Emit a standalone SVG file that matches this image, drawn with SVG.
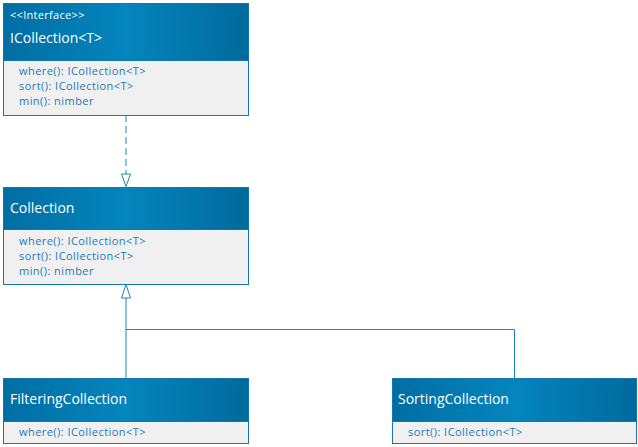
<svg xmlns="http://www.w3.org/2000/svg" width="638" height="447" viewBox="0 0 638 447">
<style>
.box{fill:#f0f0f0;stroke:#1478ad;stroke-width:1}
.title{font-family:"Open Sans","Noto Sans",sans-serif;font-size:14px;fill:#ffffff}
.stereo{font-family:"Open Sans","Noto Sans",sans-serif;font-size:11px;letter-spacing:0.3px;fill:#ffffff}
.m{font-family:"Open Sans","Noto Sans",sans-serif;font-size:11px;letter-spacing:0.45px;fill:#1f77bb}
.conn{fill:none;stroke:#1a87b8;stroke-width:1}
</style>
<defs>
<linearGradient id="hg" x1="0" y1="0" x2="1" y2="0">
<stop offset="0" stop-color="#006ea3"/>
<stop offset="0.5" stop-color="#0485bd"/>
<stop offset="1" stop-color="#006a9c"/>
</linearGradient>
</defs>
<g id="connectors">
<line class="conn" x1="126" y1="115" x2="126" y2="174" stroke-dasharray="7,4"/>
<path d="M126,186.5 L130.5,174 L121.5,174 Z" fill="#ffffff" stroke="#1a87b8"/>
<path class="conn" d="M126,378 L126,298"/>
<path d="M126,284.5 L130.5,298 L121.5,298 Z" fill="#ffffff" stroke="#1a87b8"/>
<path class="conn" d="M126,329.5 L514.5,329.5 L514.5,378"/>
</g>
<g id="ICollection">
<rect class="box" x="3.5" y="3.5" width="245" height="112"/>
<rect x="3.5" y="3.5" width="245" height="57" fill="url(#hg)" stroke="#1478ad"/>
<text class="stereo" x="10" y="19">&lt;&lt;Interface&gt;&gt;</text>
<text class="title" x="10" y="43">ICollection&lt;T&gt;</text>
<text class="m" x="19" y="75">where(): ICollection&lt;T&gt;</text>
<text class="m" x="19" y="90">sort(): ICollection&lt;T&gt;</text>
<text class="m" x="19" y="105">min(): nimber</text>
</g>
<g id="Collection">
<rect class="box" x="3.5" y="187.5" width="245" height="97"/>
<rect x="3.5" y="187.5" width="245" height="42" fill="url(#hg)" stroke="#1478ad"/>
<text class="title" x="10" y="213">Collection</text>
<text class="m" x="19" y="245">where(): ICollection&lt;T&gt;</text>
<text class="m" x="19" y="260">sort(): ICollection&lt;T&gt;</text>
<text class="m" x="19" y="275">min(): nimber</text>
</g>
<g id="FilteringCollection">
<rect class="box" x="3.5" y="378.5" width="245" height="65"/>
<rect x="3.5" y="378.5" width="245" height="43" fill="url(#hg)" stroke="#1478ad"/>
<text class="title" x="10" y="404">FilteringCollection</text>
<text class="m" x="19" y="436">where(): ICollection&lt;T&gt;</text>
</g>
<g id="SortingCollection">
<rect class="box" x="392.5" y="378.5" width="244" height="65"/>
<rect x="392.5" y="378.5" width="244" height="43" fill="url(#hg)" stroke="#1478ad"/>
<text class="title" x="398" y="404">SortingCollection</text>
<text class="m" x="408" y="436">sort(): ICollection&lt;T&gt;</text>
</g>
</svg>
